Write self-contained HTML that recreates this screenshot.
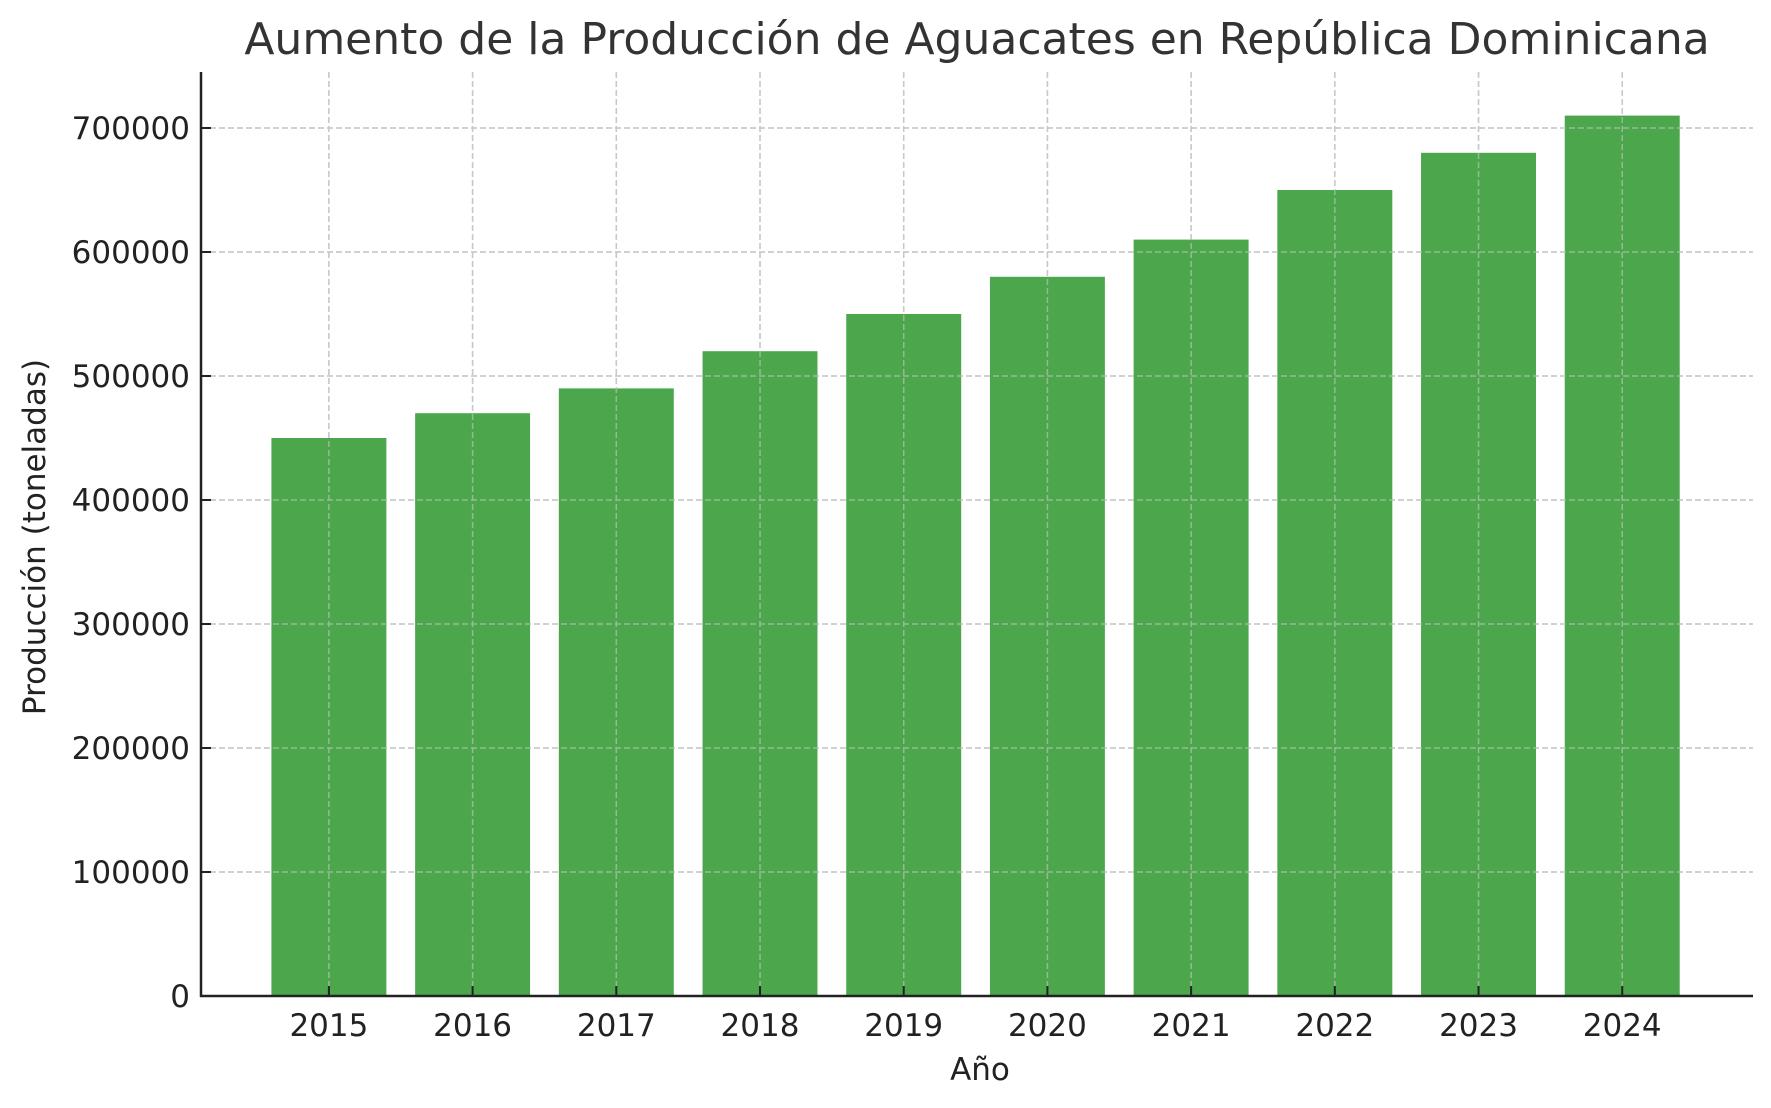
<!DOCTYPE html>
<html><head><meta charset="utf-8"><style>
html,body{margin:0;padding:0;background:#fff;}
svg text{font-family:"DejaVu Sans","Liberation Sans",sans-serif;}
</style></head><body>
<svg id="chart" width="1771" height="1103" viewBox="0 0 1771 1103" xmlns="http://www.w3.org/2000/svg">
<rect width="1771" height="1103" fill="#fff"/>
<g id="grid"></g>
<g id="bars"></g>
<g id="axes"></g>
<text x="977" y="54" text-anchor="middle" font-size="44" fill="#333">Aumento de la Producción de Aguacates en República Dominicana</text>
<text x="980" y="1080" text-anchor="middle" font-size="31" fill="#222">Año</text>
<text transform="translate(45,537) rotate(-90)" text-anchor="middle" font-size="31" fill="#222">Producción (toneladas)</text>
</svg>
<script>
const categories = ["2015","2016","2017","2018","2019","2020","2021","2022","2023","2024"];
const production = [450000,470000,490000,520000,550000,580000,610000,650000,680000,710000];
const yTicks = [0,100000,200000,300000,400000,500000,600000,700000];

const L=201,R=1753,T=72,B=996;
const xMin=-0.89,xMax=9.91,yMax=(B-T)/(868/700000);
function x(i){return L+(i-xMin)/(xMax-xMin)*(R-L);}
function y(v){return B-v/yMax*(B-T);}
const NS="http://www.w3.org/2000/svg";
function mk(tag,attrs,parent){const e=document.createElementNS(NS,tag);for(const k in attrs)e.setAttribute(k,attrs[k]);parent.appendChild(e);return e;}
const grid=document.getElementById('grid'),bars=document.getElementById('bars'),axes=document.getElementById('axes');
const bw=(x(1)-x(0))*0.8;
categories.forEach((c,i)=>{
  const g=mk('line',{x1:x(i),x2:x(i),y1:T,y2:B,stroke:'#c8c8c8','stroke-width':1.5,'stroke-dasharray':'6,3'},grid);
  
  
});
yTicks.forEach(v=>{
  const g=mk('line',{x1:L,x2:R,y1:y(v),y2:y(v),stroke:'#c8c8c8','stroke-width':1.5,'stroke-dasharray':'6,3'},grid);
  
  
});
production.forEach((v,i)=>{
  const r=mk('rect',{x:x(i)-bw/2,y:y(v),width:bw,height:B-y(v),fill:'#4ca64c'},bars);
  
  
});
// redraw grid over bars (matplotlib draws grid on top here)
const grid2=grid.cloneNode(true);grid2.setAttribute('opacity','0.6');document.getElementById('chart').insertBefore(grid2,axes);

const la=mk('line',{x1:L,x2:L,y1:T,y2:B+1,stroke:'#222','stroke-width':2.5},axes);


const ba=mk('line',{x1:L-1,x2:R,y1:B,y2:B,stroke:'#222','stroke-width':2.5},axes);


categories.forEach((c,i)=>{
  const t=mk('line',{x1:x(i),x2:x(i),y1:B,y2:B-10,stroke:'#222','stroke-width':2},axes);
  
  
  const lb=mk('text',{x:x(i),y:B+40,'text-anchor':'middle','font-size':31,fill:'#222'},axes);
  lb.textContent=c;
  
  
});
yTicks.forEach(v=>{
  const t=mk('line',{x1:L,x2:L+10,y1:y(v),y2:y(v),stroke:'#222','stroke-width':2},axes);
  
  
  const lb=mk('text',{x:L-11,y:y(v)+11,'text-anchor':'end','font-size':31,fill:'#222'},axes);
  lb.textContent=String(v);
  
  
});
</script>
</body></html>
